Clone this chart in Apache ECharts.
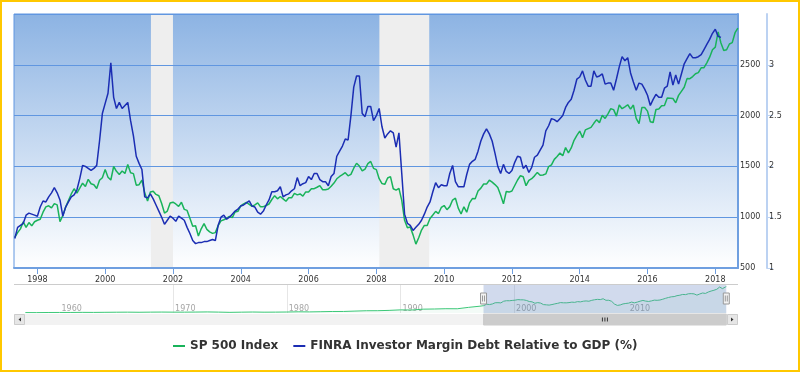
<!DOCTYPE html>
<html><head><meta charset="utf-8">
<script src="https://cdn.jsdelivr.net/npm/echarts@6/dist/echarts.min.js"></script>
<style>
html,body{margin:0;padding:0;background:#fff}
#c{width:800px;height:372px;position:absolute;left:0;top:0}
#frame{position:absolute;left:0;top:0;width:800px;height:372px;box-sizing:border-box;border:2px solid #ffc800;pointer-events:none}
</style>
</head><body><div id="c"></div><div id="frame"></div>
<script>
// ---- data ----
const startYear = 1997, startMonth = 4; // monthly data begins April 1997
const sp500 = [
801,848,885,954,899,947,915,955,970,
980,1049,1102,1112,1091,1134,1121,957,1017,1099,1164,1229,
1280,1238,1286,1335,1302,1373,1329,1320,1283,1363,1389,1469,
1394,1366,1499,1452,1421,1455,1431,1518,1437,1429,1315,1320,
1366,1240,1160,1249,1256,1224,1211,1134,1041,1060,1139,1148,
1130,1107,1147,1077,1067,990,912,916,815,886,936,880,
856,841,848,917,964,975,990,1008,996,1051,1058,1112,
1131,1145,1126,1107,1121,1141,1102,1104,1115,1130,1174,1212,
1181,1204,1181,1157,1192,1191,1234,1220,1229,1207,1249,1248,
1280,1281,1295,1311,1270,1270,1277,1304,1336,1378,1401,1418,
1438,1407,1421,1482,1531,1503,1455,1474,1527,1549,1481,1468,
1379,1331,1323,1386,1400,1280,1267,1283,1165,969,896,903,
826,735,798,873,919,919,987,1021,1057,1036,1096,1115,
1074,1104,1169,1187,1089,1031,1102,1049,1141,1183,1181,1258,
1286,1327,1326,1364,1345,1321,1292,1219,1131,1253,1247,1258,
1312,1366,1408,1398,1310,1362,1379,1407,1441,1412,1416,1426,
1498,1515,1569,1598,1631,1606,1686,1633,1682,1757,1806,1848,
1783,1859,1872,1884,1924,1960,1931,2003,1972,2018,2068,2059,
1995,2105,2068,2086,2107,2063,2104,1972,1920,2079,2080,2044,
1940,1932,2060,2065,2097,2099,2174,2171,2168,2126,2199,2239,
2279,2364,2363,2384,2412,2423,2470,2472,2519,2575,2648,2674,
2824,2714,2641,2648,2705,2718,2816,2860
];
const marginDebt = [
1.29,1.40,1.42,1.44,1.52,1.54,1.53,1.52,1.51,1.60,
1.66,1.65,1.70,1.74,1.79,1.74,1.67,1.51,1.60,1.65,
1.70,1.72,1.77,1.88,2.01,2.00,1.98,1.96,1.98,2.01,
2.25,2.52,2.62,2.72,3.02,2.68,2.57,2.63,2.57,2.60,
2.63,2.45,2.30,2.10,2.03,1.97,1.70,1.69,1.73,1.68,
1.62,1.56,1.50,1.43,1.47,1.51,1.49,1.46,1.51,1.49,
1.47,1.40,1.34,1.27,1.24,1.25,1.25,1.26,1.26,1.27,
1.28,1.27,1.42,1.50,1.52,1.48,1.50,1.53,1.56,1.58,
1.61,1.62,1.64,1.66,1.61,1.60,1.55,1.53,1.56,1.62,
1.67,1.75,1.75,1.76,1.80,1.70,1.72,1.73,1.76,1.78,
1.89,1.81,1.83,1.84,1.90,1.87,1.93,1.93,1.87,1.85,
1.85,1.81,1.90,1.93,2.10,2.15,2.20,2.27,2.26,2.50,
2.78,2.89,2.89,2.52,2.49,2.59,2.59,2.45,2.50,2.57,
2.39,2.28,2.32,2.35,2.33,2.19,2.33,1.93,1.53,1.44,
1.42,1.37,1.40,1.43,1.47,1.53,1.60,1.65,1.75,1.84,
1.79,1.82,1.81,1.81,1.93,2.01,1.85,1.80,1.80,1.80,
1.92,2.02,2.05,2.07,2.15,2.25,2.32,2.37,2.32,2.25,
2.13,2.00,1.93,2.02,1.95,1.93,1.96,2.04,2.10,2.09,
1.98,2.01,1.94,1.99,2.09,2.11,2.16,2.21,2.35,2.40,
2.47,2.46,2.44,2.47,2.50,2.58,2.63,2.66,2.75,2.86,
2.88,2.94,2.85,2.79,2.79,2.94,2.88,2.89,2.91,2.81,
2.82,2.82,2.75,2.86,2.98,3.08,3.04,3.07,2.92,2.83,
2.75,2.82,2.81,2.76,2.70,2.60,2.66,2.71,2.68,2.68,
2.77,2.79,2.93,2.80,2.90,2.81,2.91,3.01,3.06,3.11,
3.07,3.07,3.08,3.10,3.15,3.20,3.25,3.31,3.35,3.28,
3.27
];
// long-history S&P 500 (start of each year) for the navigator
const navYears = [1957,1958,1959,1960,1961,1962,1963,1964,1965,1966,1967,1968,1969,1970,1971,1972,1973,1974,1975,1976,1977,1978,1979,1980,1981,1982,1983,1984,1985,1986,1987,1988,1989,1990,1991,1992,1993,1994,1995,1996,1997];
const navSp500 = [45,41,55,59,58,69,63,76,85,93,81,95,102,92,93,103,118,97,70,90,107,89,96,108,129,120,140,164,167,208,246,250,285,340,326,417,435,466,460,614,740];
const recessions = [[2001.35, 2002.0], [2008.09, 2009.56]];
const xTicks = [1998,2000,2002,2004,2006,2008,2010,2012,2014,2016,2018];
const navTicks = [1960,1970,1980,1990,2000,2010];
const viewRange = [1997.31, 2018.67];
const navRange = [1956.0, 2019.7];
const seriesNames = ['SP 500 Index', 'FINRA Investor Margin Debt Relative to GDP (%)'];

// ---- build ----
const FONT = 'DejaVu Sans';
const GREEN = '#19b35a', BLUE = '#1b2db3', AXIS_BLUE = '#6f9fe0', GRID_BLUE = '#6096e0', AXIS2 = '#bcd2f2';
const monthX = i => startYear + (startMonth + i) / 12;
const spData = sp500.map((v, i) => [monthX(i), v]);
const mdData = marginDebt.map((v, i) => [monthX(i), v]);
const navData = navYears.map((y, i) => [y, navSp500[i]]).concat(spData);

function handle(x, cs) {
  const cy = cs.y + cs.height / 2;
  return [
    {type:'rect', shape:{x:x-3, y:cy-5.5, width:6, height:11}, style:{fill:'#f2f2f2', stroke:'#999999', lineWidth:1}},
    {type:'line', shape:{x1:x-1, y1:cy-3, x2:x-1, y2:cy+3}, style:{stroke:'#999999', lineWidth:1}},
    {type:'line', shape:{x1:x+1, y1:cy-3, x2:x+1, y2:cy+3}, style:{stroke:'#999999', lineWidth:1}}
  ];
}

const chart = echarts.init(document.getElementById('c'), null, {renderer:'canvas'});
chart.setOption({
  animation:false,
  textStyle:{fontFamily:FONT},
  legend:{
    data:seriesNames, left:168, top:335, padding:5, icon:'rect', itemWidth:12, itemHeight:2, itemGap:15,
    selectedMode:false,
    textStyle:{fontFamily:FONT, fontSize:12, fontWeight:'bold', color:'#333'}
  },
  grid:[
    {left:14, top:14, width:724, height:254, show:true, z:-2, borderColor:GRID_BLUE, borderWidth:1,
     backgroundColor:new echarts.graphic.LinearGradient(0,0,0,1,[{offset:0,color:'#8cb3e3'},{offset:1,color:'#ffffff'}])},
    {left:14, top:284, width:724, height:29},
    {left:14, top:314, width:724, height:11}
  ],
  xAxis:[
    {gridIndex:0, type:'value', min:viewRange[0], max:viewRange[1],
     axisLine:{show:true, onZero:false, lineStyle:{color:AXIS_BLUE, width:2}},
     axisTick:{show:true, customValues:xTicks, length:6, lineStyle:{color:AXIS_BLUE, width:1}},
     axisLabel:{customValues:xTicks, fontSize:8, color:'#333', margin:8, formatter:v => String(v)},
     splitLine:{show:false}},
    {gridIndex:1, type:'value', min:navRange[0], max:navRange[1],
     axisLine:{show:false},
     axisTick:{show:false, customValues:navTicks},
     axisLabel:{inside:true, customValues:navTicks, fontSize:8, color:'#a6a6a6', align:'left', padding:[0,0,0,2], margin:0, formatter:v => String(v)},
     splitLine:{show:true, showMinLine:false, showMaxLine:false, lineStyle:{color:'#e6e6e6', width:1}}},
    {gridIndex:2, type:'value', min:navRange[0], max:navRange[1], show:false}
  ],
  yAxis:[
    {gridIndex:0, type:'value', position:'right', min:500, max:3000, interval:500,
     axisLine:{show:true, lineStyle:{color:AXIS_BLUE, width:2}},
     axisTick:{show:false},
     axisLabel:{margin:2, fontSize:8, color:'#333', showMaxLabel:false, formatter:v => String(v)},
     splitLine:{show:true, lineStyle:{color:GRID_BLUE, width:1}}},
    {gridIndex:0, type:'value', position:'right', offset:29, min:1, max:3.5, interval:0.5,
     axisLine:{show:true, lineStyle:{color:AXIS2, width:2}},
     axisTick:{show:true, length:6, lineStyle:{color:AXIS2, width:1}},
     axisLabel:{margin:2, fontSize:8, color:'#333', showMaxLabel:false},
     splitLine:{show:false}},
    {gridIndex:1, type:'value', min:0, max:3150, show:false},
    {gridIndex:2, type:'value', min:0, max:1, show:false}
  ],
  series:[
    {type:'custom', name:'recessions', xAxisIndex:0, yAxisIndex:0, z:-1, silent:true,
     data:recessions, encode:{x:[0,1]},
     renderItem:(params, api) => {
       const cs = params.coordSys;
       const a = api.coord([api.value(0), 500])[0], b = api.coord([api.value(1), 500])[0];
       return {type:'rect', shape:{x:a, y:cs.y, width:b-a, height:cs.height}, style:{fill:'#eeeeee'}};
     }},
    {type:'line', name:seriesNames[0], data:spData, xAxisIndex:0, yAxisIndex:0, symbol:'none', showSymbol:false,
     lineStyle:{color:GREEN, width:1.5}, itemStyle:{color:GREEN}, z:3},
    {type:'line', name:seriesNames[1], data:mdData, xAxisIndex:0, yAxisIndex:1, symbol:'none', showSymbol:false,
     lineStyle:{color:BLUE, width:1.5}, itemStyle:{color:BLUE}, z:4},
    {type:'line', name:'navigator', data:navData, xAxisIndex:1, yAxisIndex:2, symbol:'none', showSymbol:false, silent:true,
     lineStyle:{color:'#3cc878', width:1}, areaStyle:{color:GREEN, opacity:0.05}, z:2},
    {type:'custom', name:'navMask', xAxisIndex:1, yAxisIndex:2, data:[viewRange], encode:{x:[0,1]}, z:5, silent:true,
     renderItem:(params, api) => {
       const cs = params.coordSys;
       const a = api.coord([api.value(0), 0])[0], b = api.coord([api.value(1), 0])[0];
       return {type:'group', children:[
         {type:'rect', shape:{x:a, y:cs.y, width:b-a, height:cs.height}, style:{fill:'rgba(102,133,194,0.3)'}},
         {type:'line', shape:{x1:cs.x, y1:cs.y+0.5, x2:cs.x+cs.width, y2:cs.y+0.5}, style:{stroke:'#cccccc', lineWidth:1}}
       ].concat(handle(a, cs), handle(b, cs))};
     }},
    {type:'custom', name:'scrollbar', xAxisIndex:2, yAxisIndex:3, data:[viewRange], encode:{x:[0,1]}, z:5, silent:true,
     renderItem:(params, api) => {
       const cs = params.coordSys;
       const a = api.coord([api.value(0), 0])[0], b = api.coord([api.value(1), 0])[0];
       const m = (a + b) / 2, cy = cs.y + cs.height / 2, bw = 11;
       const rx = cs.x + cs.width - bw;
       return {type:'group', children:[
         {type:'rect', shape:{x:cs.x, y:cs.y, width:cs.width, height:cs.height}, style:{fill:'#f2f2f2'}},
         {type:'rect', shape:{x:a, y:cs.y, width:b-a, height:cs.height}, style:{fill:'#cccccc', stroke:'#cccccc', lineWidth:1}},
         {type:'line', shape:{x1:m-2.5, y1:cy-2, x2:m-2.5, y2:cy+2}, style:{stroke:'#333', lineWidth:1}},
         {type:'line', shape:{x1:m, y1:cy-2, x2:m, y2:cy+2}, style:{stroke:'#333', lineWidth:1}},
         {type:'line', shape:{x1:m+2.5, y1:cy-2, x2:m+2.5, y2:cy+2}, style:{stroke:'#333', lineWidth:1}},
         {type:'rect', shape:{x:cs.x+0.5, y:cs.y+0.5, width:bw-1, height:cs.height-1}, style:{fill:'#e6e6e6', stroke:'#cccccc', lineWidth:1}},
         {type:'polygon', shape:{points:[[cs.x+4.5, cy], [cs.x+7, cy-2], [cs.x+7, cy+2]]}, style:{fill:'#333'}},
         {type:'rect', shape:{x:rx+0.5, y:cs.y+0.5, width:bw-1, height:cs.height-1}, style:{fill:'#e6e6e6', stroke:'#cccccc', lineWidth:1}},
         {type:'polygon', shape:{points:[[rx+6.5, cy], [rx+4, cy-2], [rx+4, cy+2]]}, style:{fill:'#333'}}
       ]};
     }}
  ]
});
</script></body></html>
